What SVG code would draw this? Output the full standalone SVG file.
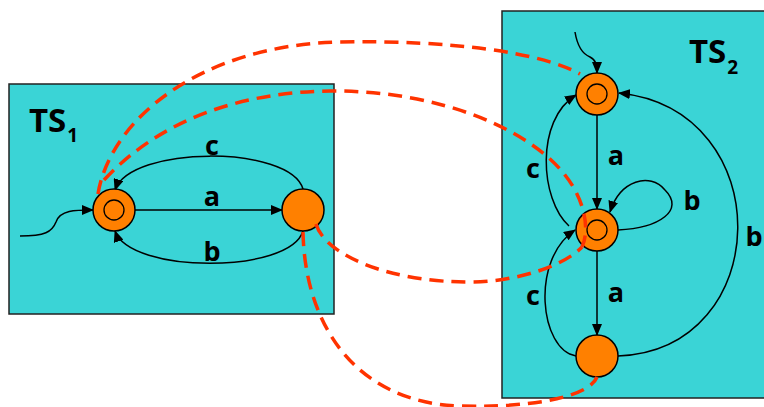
<svg xmlns="http://www.w3.org/2000/svg" width="764" height="407" viewBox="0 0 764 407">
<style>
.box{fill:#3AD4D6;stroke:#222;stroke-width:1.5}
.st{fill:#FF8000;stroke:#000;stroke-width:1.5}
.in{fill:none;stroke:#000;stroke-width:1.3}
.e{fill:none;stroke:#000;stroke-width:1.5}
.d{fill:none;stroke:#FF3300;stroke-width:3.5;stroke-dasharray:14 8}
.lbl{font-family:"Open Sans","Liberation Sans",sans-serif;font-weight:bold;font-size:27px;fill:#000;text-anchor:middle}
.ts{font-family:"Open Sans","Liberation Sans",sans-serif;font-weight:bold;font-size:33px;fill:#000}
.sub{font-size:19px}
</style>
<defs>
<marker id="ah" markerUnits="userSpaceOnUse" markerWidth="12" markerHeight="10" refX="11" refY="5" orient="auto">
<path d="M0,0 L12,5 L0,10 Z" fill="#000"/>
</marker>
</defs>
<g id="ts1">
<rect class="box" x="9" y="84" width="325" height="230"/>
<text class="ts" x="29" y="132">TS<tspan class="sub" dx="1" dy="10">1</tspan></text>
</g>
<g id="ts2">
<rect class="box" x="502" y="11" width="275" height="387"/>
<text class="ts" x="689" y="63">TS<tspan class="sub" dx="1" dy="11">2</tspan></text>
</g>
<g id="connectors">
<path class="e" d="M20,236 C45,236 52,232 56,222 C60,210 75,210 93,210" marker-end="url(#ah)"/>
<path class="e" d="M135,210 L282,210" marker-end="url(#ah)"/>
<path class="e" d="M303,189 C290,145 130,145 115,190" marker-end="url(#ah)"/>
<path class="e" d="M303,231 C290,274 130,274 115,231" marker-end="url(#ah)"/>
<path class="e" d="M575,32 C578,50 585,55 590,57 C596,60 597,65 597,73" marker-end="url(#ah)"/>
<path class="e" d="M597,115 L597,209" marker-end="url(#ah)"/>
<path class="e" d="M597,251 L597,335" marker-end="url(#ah)"/>
<path class="e" d="M618,230 C660,228 685,210 665,190 C650,172 620,180 610,212" marker-end="url(#ah)"/>
<path class="e" d="M569,226 C540,200 535,120 576,95" marker-end="url(#ah)"/>
<path class="e" d="M576,356 C540,350 530,260 575,230" marker-end="url(#ah)"/>
<path class="e" d="M618,356 C775,350 780,110 619,93" marker-end="url(#ah)"/>
<text class="lbl" x="212" y="206">a</text>
<text class="lbl" x="212" y="155">c</text>
<text class="lbl" x="212" y="261">b</text>
<text class="lbl" x="616" y="165">a</text>
<text class="lbl" x="616" y="302">a</text>
<text class="lbl" x="533" y="178">c</text>
<text class="lbl" x="533" y="305">c</text>
<text class="lbl" x="692" y="210">b</text>
<text class="lbl" x="754" y="246">b</text>
</g>
<g id="s1"><circle class="st" cx="114" cy="210" r="21"/><circle class="in" cx="114" cy="210" r="10"/></g>
<g id="s2"><circle class="st" cx="303" cy="210" r="21"/></g>
<g id="t1"><circle class="st" cx="597" cy="94" r="21"/><circle class="in" cx="597" cy="94" r="10"/></g>
<g id="t2"><circle class="st" cx="597" cy="230" r="21"/><circle class="in" cx="597" cy="230" r="10"/></g>
<g id="t3"><circle class="st" cx="597" cy="356" r="21"/></g>
<g id="relation">
<path class="d" d="M98,194 C110,120 200,45 340,42 C450,40 540,52 580,74"/>
<path class="d" d="M104,180 C160,120 240,92 330,91 C440,90 530,130 565,175 C585,200 590,230 582,247"/>
<path class="d" d="M316,224 C325,255 390,283 473,282 C520,281 565,265 582,247"/>
<path class="d" d="M303,232 C305,330 360,403 460,406 C540,408 590,395 597,377"/>
</g>
</svg>
